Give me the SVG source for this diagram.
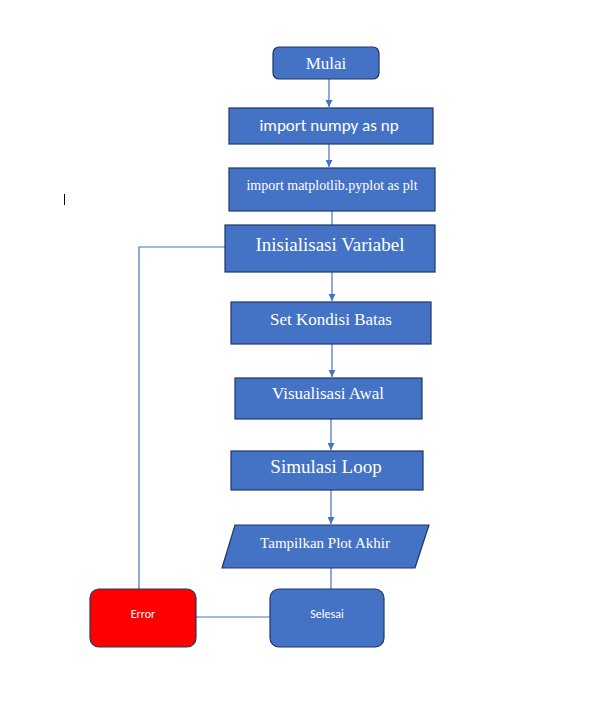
<svg xmlns="http://www.w3.org/2000/svg" width="616" height="707" viewBox="0 0 616 707">
  <style>
    .box { fill: #4472C4; stroke: #1F3864; stroke-width: 1.2; }
    .err { fill: #FF0000; stroke: #1F3864; stroke-width: 1.2; }
    .serif { font-family: "Liberation Serif", "Times New Roman", serif; fill: #ffffff; text-anchor: middle; }
    .sans { font-family: "Carlito", "Liberation Sans", Arial, sans-serif; fill: #ffffff; text-anchor: middle; }
    .link { fill: none; stroke: #4472C4; stroke-width: 1.2; }
  </style>
  <defs>
    <marker id="arrow" viewBox="0 0 10 10" refX="10" refY="5" markerWidth="7" markerHeight="7" orient="auto" markerUnits="userSpaceOnUse">
      <path d="M0,0 L10,5 L0,10 z" fill="#4472C4"/>
    </marker>
  </defs>
  <rect width="616" height="707" fill="#ffffff"/>

  <!-- text cursor -->
  <line x1="64.5" y1="194" x2="64.5" y2="205" stroke="#000000" stroke-width="1"/>

  <g id="connectors">
    <line class="link" x1="329" y1="79" x2="329" y2="107" marker-end="url(#arrow)"/>
    <line class="link" x1="329" y1="144" x2="329" y2="167" marker-end="url(#arrow)"/>
    <line class="link" x1="332" y1="211" x2="332" y2="225"/>
    <line class="link" x1="332" y1="272" x2="332" y2="301" marker-end="url(#arrow)"/>
    <line class="link" x1="332" y1="344" x2="332" y2="377" marker-end="url(#arrow)"/>
    <line class="link" x1="331" y1="419" x2="331" y2="450" marker-end="url(#arrow)"/>
    <line class="link" x1="331" y1="490" x2="331" y2="524" marker-end="url(#arrow)"/>
    <line class="link" x1="331" y1="568" x2="331" y2="589"/>
    <line class="link" x1="270" y1="617" x2="196" y2="617"/>
    <polyline class="link" points="139,589 139,247 225,247"/>
  </g>

  <g id="mulai">
    <rect class="box" x="273" y="47" width="106" height="32" rx="6"/>
    <text class="serif" x="326" y="69" font-size="17">Mulai</text>
  </g>
  <g id="import-numpy">
    <rect class="box" x="229" y="108" width="204" height="36"/>
    <text class="sans" x="329" y="131" font-size="17">import numpy as np</text>
  </g>
  <g id="import-matplotlib">
    <rect class="box" x="229" y="168" width="206" height="43"/>
    <text class="serif" x="332" y="190" font-size="14">import matplotlib.pyplot as plt</text>
  </g>
  <g id="inisialisasi">
    <rect class="box" x="225" y="225" width="210" height="47"/>
    <text class="serif" x="330" y="251" font-size="19">Inisialisasi Variabel</text>
  </g>
  <g id="kondisi-batas">
    <rect class="box" x="231" y="302" width="200" height="42"/>
    <text class="serif" x="331" y="325" font-size="17">Set Kondisi Batas</text>
  </g>
  <g id="visualisasi-awal">
    <rect class="box" x="235" y="378" width="187" height="41"/>
    <text class="serif" x="328" y="399" font-size="17">Visualisasi Awal</text>
  </g>
  <g id="simulasi-loop">
    <rect class="box" x="231" y="451" width="192" height="39"/>
    <text class="serif" x="326" y="473" font-size="19">Simulasi Loop</text>
  </g>
  <g id="tampilkan-plot">
    <polygon class="box" points="235,525 429,525 415,568 222,568"/>
    <text class="serif" x="325" y="548" font-size="15">Tampilkan Plot Akhir</text>
  </g>
  <g id="selesai">
    <rect class="box" x="270" y="589" width="114" height="58" rx="9"/>
    <text class="sans" x="327" y="618" font-size="12">Selesai</text>
  </g>
  <g id="error">
    <rect class="err" x="90" y="589" width="106" height="58" rx="9"/>
    <text class="sans" x="143" y="618" font-size="12">Error</text>
  </g>
</svg>
